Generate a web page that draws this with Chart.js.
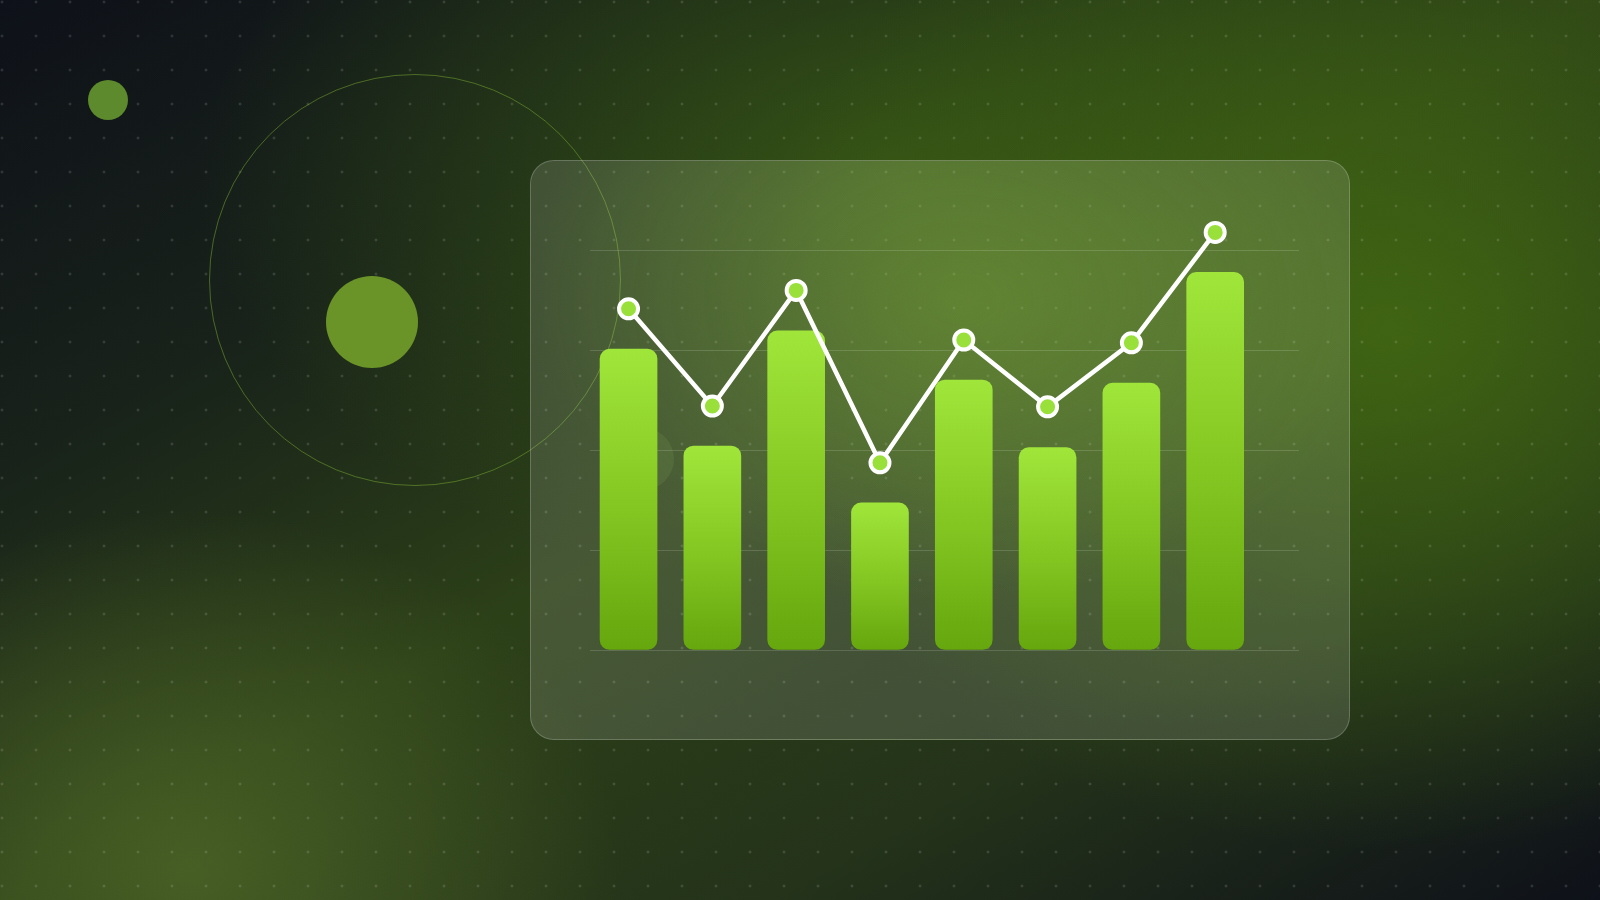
<!DOCTYPE html>
<html>
<head>
<meta charset="utf-8">
<script src="https://cdn.jsdelivr.net/npm/chart.js@4"></script>
<style>
  html, body { margin:0; padding:0; width:1600px; height:900px; overflow:hidden; }
  body {
    position:relative;
    background:
      radial-gradient(ellipse 430px 360px at 190px 870px, rgba(74,98,38,0.9), rgba(74,98,38,0) 100%),
      radial-gradient(ellipse 640px 520px at 1390px 330px, rgba(64,102,18,0.95), rgba(64,102,18,0) 100%),
      radial-gradient(ellipse 700px 420px at 900px 180px, rgba(58,92,20,0.8), rgba(58,92,20,0) 100%),
      linear-gradient(to bottom right, #0e1119 0%, #18221a 26%, #2c4018 50%, #24331a 74%, #0e1119 100%);
  }
  .dots {
    position:absolute; left:0; top:0; width:1600px; height:900px;
    background-image: radial-gradient(circle at center, rgba(255,255,255,0.13) 0, rgba(255,255,255,0.13) 1.1px, rgba(255,255,255,0) 1.8px);
    background-size: 34px 34px;
    background-position: -15px -15px;
  }
  .c { position:absolute; border-radius:50%; }
  .panel {
    position:absolute; left:530px; top:160px; width:818px; height:578px;
    border:1.5px solid rgba(255,255,255,0.2); border-radius:24px;
    background:
      radial-gradient(ellipse 420px 300px at 430px 140px, rgba(125,175,50,0.35), rgba(125,175,50,0) 100%),
      rgba(255,255,255,0.13);
  }
  canvas { position:absolute; left:0; top:0; }
</style>
</head>
<body>
<div class="dots"></div>
<div class="c" style="left:88px;top:80px;width:40px;height:40px;background:#5c8a2c;"></div>
<div class="c" style="left:209px;top:74px;width:412px;height:412px;border:1.5px solid rgba(125,175,50,0.5);box-sizing:border-box;"></div>
<div class="c" style="left:326px;top:276px;width:92px;height:92px;background:#6a9428;"></div>
<div class="c" style="left:612px;top:428px;width:62px;height:62px;background:rgba(140,190,80,0.12);"></div>
<div class="panel"></div>
<canvas id="chart" width="1600" height="900"></canvas>
<script>
const categories = ['Jan', 'Feb', 'Mar', 'Apr', 'May', 'Jun', 'Jul', 'Aug'];
const barValues  = [75.2, 51, 79.8, 36.8, 67.5, 50.6, 66.7, 94.4];
const lineValues = [85.3, 61, 89.9, 46.8, 77.5, 60.8, 76.8, 104.4];
const yTicks     = [0, 25, 50, 75, 100];

const barData  = categories.map((c, i) => ({ x: i, y: barValues[i] }));
const lineData = categories.map((c, i) => ({ x: i, y: lineValues[i] }));

function barGradient(context) {
  const chart = context.chart;
  const y = chart.scales && chart.scales.y;
  if (!y || context.type !== 'data' || !chart.chartArea) return '#88cc22';
  const top = y.getPixelForValue(context.raw.y);
  const bot = y.getPixelForValue(0);
  const g = chart.ctx.createLinearGradient(0, top, 0, bot);
  g.addColorStop(0, '#a0e63a');
  g.addColorStop(0.5, '#86c823');
  g.addColorStop(1, '#65a70d');
  return g;
}

new Chart(document.getElementById('chart'), {
  data: {
    datasets: [
      {
        type: 'line',
        data: lineData,
        order: 0,
        borderColor: '#ffffff',
        borderWidth: 4.5,
        tension: 0,
        pointRadius: 9.5,
        pointBorderWidth: 4,
        pointBackgroundColor: '#9ae03a',
        pointBorderColor: '#ffffff',
        clip: false
      },
      {
        type: 'bar',
        data: barData,
        order: 1,
        barThickness: 57,
        borderRadius: 10,
        borderSkipped: false,
        backgroundColor: barGradient
      }
    ]
  },
  options: {
    responsive: false,
    animation: false,
    events: [],
    layout: { padding: { left: 590, right: 301, top: 210, bottom: 250 } },
    plugins: { legend: { display: false }, tooltip: { enabled: false } },
    scales: {
      x: {
        type: 'linear',
        min: -0.46,
        max: 8.0,
        offset: false,
        grid: { offset: false },
        display: false
      },
      y: {
        min: 0,
        max: 110,
        afterBuildTicks: (scale) => { scale.ticks = yTicks.map(v => ({ value: v })); },
        ticks: { display: false },
        border: { display: false },
        grid: { color: 'rgba(255,255,255,0.15)', lineWidth: 1, drawTicks: false }
      }
    }
  }
});
</script>
</body>
</html>
